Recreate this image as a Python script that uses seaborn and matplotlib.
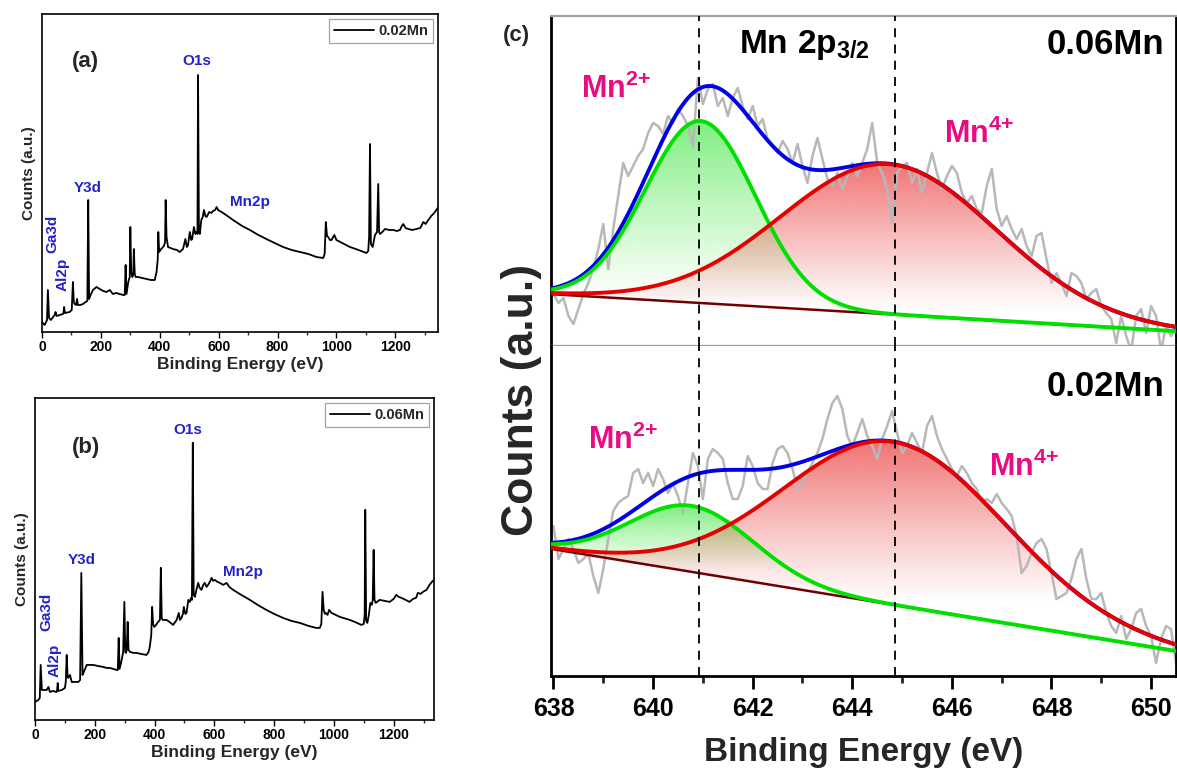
import numpy as np
import pandas as pd
import matplotlib
matplotlib.use("Agg")
import matplotlib.pyplot as plt
import seaborn as sns
from matplotlib.colors import to_rgb
from matplotlib.ticker import MultipleLocator

sns.set_theme(style="ticks")
plt.rcParams['font.family'] = ['Liberation Sans', 'DejaVu Sans']
plt.rcParams['font.weight'] = 'bold'
plt.rcParams['mathtext.fontset'] = 'custom'
plt.rcParams['mathtext.bf'] = 'Liberation Sans:bold'
plt.rcParams['mathtext.rm'] = 'Liberation Sans:bold'
plt.rcParams['mathtext.it'] = 'Liberation Sans:bold'

# ---------------- survey spectra data ----------------
a_ev = [0, 9, 17, 20, 24, 30, 43, 46, 50, 60, 71, 73, 75, 78, 94, 101, 105, 108, 111, 116, 119, 122, 130, 139, 148, 154, 157, 160, 165, 173, 185, 196, 208, 219, 230, 241, 252, 264, 276, 281, 284, 287, 293, 298, 300, 303, 307, 310, 312, 315, 318, 326, 340, 355, 370, 383, 389, 393, 395, 398, 402, 408, 414, 418, 420, 423, 428, 445, 458, 468, 479, 487, 492, 496, 502, 507, 510, 516, 521, 525, 528, 530, 533, 536, 541, 546, 550, 555, 559, 568, 575, 581, 588, 593, 598, 604, 610, 630, 649, 680, 706, 735, 762, 790, 819, 848, 876, 905, 932, 955, 960, 964, 968, 972, 978, 983, 993, 1000, 1020, 1046, 1075, 1102, 1108, 1111, 1114, 1117, 1123, 1131, 1138, 1142, 1145, 1148, 1156, 1165, 1180, 1193, 1205, 1216, 1222, 1227, 1235, 1244, 1258, 1272, 1285, 1295, 1303, 1312, 1322, 1329, 1337, 1344]
a_counts = [10, 7, 12, 42, 14, 12, 17, 20, 16, 17, 18, 19, 25, 19, 20, 22, 50, 30, 28, 27, 33, 27, 27, 28, 30, 31, 132, 33, 37, 42, 45, 43, 41, 40, 42, 38, 39, 38, 37, 37, 67, 38, 50, 55, 105, 60, 55, 58, 83, 58, 55, 55, 54, 53, 52, 52, 60, 72, 100, 80, 82, 84, 86, 90, 132, 95, 85, 83, 82, 80, 83, 93, 85, 87, 100, 92, 93, 105, 98, 100, 98, 257, 100, 98, 112, 115, 122, 116, 115, 120, 119, 121, 122, 125, 122, 121, 120, 116, 112, 106, 102, 97, 93, 89, 85, 82, 80, 78, 75, 74, 78, 110, 96, 95, 92, 92, 97, 92, 89, 85, 82, 79, 81, 95, 188, 88, 85, 97, 100, 148, 100, 98, 100, 103, 102, 102, 101, 102, 106, 108, 104, 103, 102, 103, 104, 110, 108, 112, 116, 118, 121, 124]

b_ev = [0, 11, 16, 19, 23, 26, 39, 45, 50, 60, 72, 74, 76, 78, 90, 100, 103, 106, 109, 111, 117, 123, 135, 145, 151, 155, 159, 162, 173, 185, 195, 210, 228, 240, 251, 262, 273, 277, 280, 283, 290, 295, 299, 302, 304, 307, 310, 313, 318, 330, 340, 355, 373, 380, 384, 389, 392, 395, 399, 405, 412, 418, 421, 424, 427, 440, 450, 462, 474, 481, 485, 490, 495, 498, 503, 507, 513, 518, 522, 525, 528, 531, 535, 540, 546, 551, 557, 563, 568, 574, 579, 585, 591, 596, 602, 610, 618, 630, 641, 650, 663, 690, 719, 745, 774, 800, 830, 858, 886, 915, 941, 953, 958, 962, 966, 970, 973, 979, 984, 992, 1020, 1053, 1070, 1092, 1100, 1103, 1105, 1108, 1112, 1117, 1122, 1127, 1130, 1133, 1136, 1140, 1153, 1170, 1187, 1200, 1209, 1217, 1226, 1240, 1253, 1265, 1275, 1281, 1290, 1298, 1310, 1320, 1328, 1335]
b_counts = [18, 20, 22, 55, 30, 30, 30, 33, 28, 29, 28, 30, 37, 29, 30, 32, 38, 65, 44, 42, 45, 38, 38, 38, 40, 147, 45, 47, 55, 55, 55, 54, 53, 52, 52, 51, 50, 50, 82, 51, 60, 68, 118, 68, 67, 70, 98, 70, 68, 67, 67, 66, 65, 68, 73, 85, 113, 96, 93, 95, 98, 100, 152, 102, 100, 100, 98, 95, 100, 107, 100, 102, 106, 113, 106, 107, 120, 118, 122, 120, 277, 125, 123, 130, 137, 132, 130, 135, 137, 133, 135, 138, 142, 139, 140, 138, 137, 135, 137, 133, 130, 125, 120, 115, 110, 106, 102, 99, 97, 94, 92, 92, 96, 128, 110, 106, 107, 105, 110, 107, 103, 100, 98, 95, 96, 105, 210, 99, 97, 105, 117, 115, 120, 170, 120, 117, 120, 119, 118, 121, 125, 123, 122, 120, 118, 121, 122, 127, 126, 128, 130, 135, 138, 140]

# ---------------- Mn 2p3/2 high resolution data ----------------
hr_ev = [round(638.0 + 0.1 * i, 1) for i in range(126)]
raw_006 = [52, 43, 48, 30, 22, 37, 52, 63, 77, 97, 122, 77, 117, 150, 183, 170, 180, 190, 197, 213,
           223, 220, 212, 230, 223, 237, 230, 220, 200, 268, 242, 257, 262, 240, 248, 230, 248, 258, 240, 227,
           240, 220, 227, 207, 200, 193, 205, 197, 183, 202, 180, 163, 190, 208, 187, 167, 160, 173, 157, 170,
           183, 170, 183, 197, 223, 183, 173, 157, 123, 173, 180, 183, 163, 177, 153, 173, 193, 173, 157, 170,
           180, 173, 153, 143, 150, 137, 133, 160, 177, 137, 120, 130, 117, 107, 117, 100, 90, 110, 113, 87,
           63, 73, 63, 50, 73, 70, 63, 47, 53, 57, 40, 33, 27, 3, 30, 10, -5, 30, 37, 13,
           40, 30, -5, 20, 10, 17]
raw_002 = [150, 117, 127, 137, 127, 113, 117, 122, 100, 83, 107, 137, 165, 173, 177, 180, 203, 207, 193, 203,
           190, 207, 197, 183, 192, 180, 163, 193, 223, 210, 177, 217, 227, 223, 217, 193, 177, 177, 190, 220,
           210, 193, 187, 187, 213, 227, 230, 223, 207, 187, 193, 203, 213, 223, 237, 257, 273, 280, 267, 240,
           230, 243, 257, 240, 230, 217, 237, 250, 265, 243, 223, 230, 243, 233, 223, 250, 260, 240, 227, 217,
           207, 200, 210, 203, 193, 187, 173, 177, 173, 182, 173, 167, 160, 140, 103, 110, 123, 133, 137, 127,
           103, 77, 80, 83, 97, 117, 127, 97, 77, 77, 83, 63, 50, 43, 60, 37, 47, 63, 67, 50,
           40, 13, 37, 50, 47, 13]

# fitted components: [Mn2+, Mn4+] centre (eV), height, FWHM ; linear background ends
fit_006_center = [640.95, 644.72]
fit_006_height = [182, 150]
fit_006_fwhm = [2.6, 5.1]
bg_006 = [51.7, 14.8]
fit_002_center = [640.78, 644.85]
fit_002_height = [66, 163]
fit_002_fwhm = [2.9, 5.23]
bg_002 = [126.7, 25.0]
dash_positions = [640.93, 644.85]

W, H = 1177, 778
fig = plt.figure(figsize=(W / 100, H / 100), dpi=100)


def rect(l, t, r, b):
    return [l / W, 1 - b / H, (r - l) / W, (b - t) / H]


def ftxt(px, py, s, **kw):
    fig.text(px / W, 1 - py / H, s, **kw)


BLUE_LBL = '#2323c8'


def survey(ax, ev, cnt, xmax, ymax, name):
    df = pd.DataFrame({'ev': ev, 'cnt': cnt})
    sns.lineplot(data=df, x='ev', y='cnt', ax=ax, color='black', lw=1.3,
                 sort=False, estimator=None, label=name)
    ax.set_xlim(0, xmax)
    ax.set_ylim(0, ymax)
    ax.set_yticks([])
    ax.xaxis.set_major_locator(MultipleLocator(200))
    ax.xaxis.set_minor_locator(MultipleLocator(100))
    ax.tick_params(axis='x', which='major', direction='out', length=4, width=1,
                   labelsize=10, pad=2, colors='black')
    ax.tick_params(axis='x', which='minor', direction='out', length=2.5, width=1)
    for t in ax.get_xticklabels():
        t.set_fontweight('bold')
    for s in ax.spines.values():
        s.set_linewidth(1.2)
        s.set_color('black')
    ax.set_xlabel('Binding Energy (eV)', fontsize=12.5, fontweight='bold', labelpad=2)
    ax.set_ylabel('Counts (a.u.)', fontsize=11, fontweight='bold', labelpad=4)
    leg = ax.legend(loc='upper right', frameon=True, fancybox=False,
                    handlelength=2.7, borderaxespad=0.35, borderpad=0.35,
                    handletextpad=0.3, prop={'weight': 'bold', 'size': 10.5})
    leg.get_frame().set_edgecolor('#8c8c8c')
    leg.get_frame().set_linewidth(0.9)


axA = fig.add_axes(rect(42, 14, 438, 332))
survey(axA, a_ev, a_counts, 1345, 318, '0.02Mn')
axB = fig.add_axes(rect(35, 398, 434, 720))
survey(axB, b_ev, b_counts, 1335, 321.7, '0.06Mn')

# labels panel (a)
ftxt(85, 62, '(a)', fontsize=16, fontweight='bold', ha='center', va='center')
ftxt(197, 61, 'O1s', fontsize=11, fontweight='bold', color=BLUE_LBL, ha='center', va='center')
ftxt(88, 188, 'Y3d', fontsize=11, fontweight='bold', color=BLUE_LBL, ha='center', va='center')
ftxt(250, 202, 'Mn2p', fontsize=11, fontweight='bold', color=BLUE_LBL, ha='center', va='center')
ftxt(52, 234, 'Ga3d', fontsize=11, fontweight='bold', color=BLUE_LBL, ha='center', va='center', rotation=90)
ftxt(63, 274, 'Al2p', fontsize=11, fontweight='bold', color=BLUE_LBL, ha='center', va='center', rotation=90)
# labels panel (b)
ftxt(86, 448, '(b)', fontsize=16, fontweight='bold', ha='center', va='center')
ftxt(188, 430, 'O1s', fontsize=11, fontweight='bold', color=BLUE_LBL, ha='center', va='center')
ftxt(82, 560, 'Y3d', fontsize=11, fontweight='bold', color=BLUE_LBL, ha='center', va='center')
ftxt(243, 572, 'Mn2p', fontsize=11, fontweight='bold', color=BLUE_LBL, ha='center', va='center')
ftxt(46, 612, 'Ga3d', fontsize=11, fontweight='bold', color=BLUE_LBL, ha='center', va='center', rotation=90)
ftxt(55, 660, 'Al2p', fontsize=11, fontweight='bold', color=BLUE_LBL, ha='center', va='center', rotation=90)

# ---------------- panel (c) ----------------
axT = fig.add_axes(rect(551, 16, 1176, 346))
axL = fig.add_axes(rect(551, 346, 1176, 676))

XMIN, XMAX = 637.95, 650.5
xg = np.linspace(XMIN, XMAX, 600)


def gauss(x, c, h, w):
    return h * np.exp(-4 * np.log(2) * ((x - c) / w) ** 2)


def grad_fill(ax, x, ytop_curve, ybase, color, amax, ylo, yhi):
    poly = ax.fill_between(x, ybase, ytop_curve, facecolor='none', edgecolor='none', zorder=1)
    n = 256
    rgba = np.zeros((n, 1, 4))
    rgba[..., :3] = to_rgb(color)
    rgba[..., 3] = (np.linspace(0, 1, n) ** 1.1 * amax).reshape(n, 1)
    im = ax.imshow(rgba, extent=[x[0], x[-1], ylo, yhi], origin='lower',
                   aspect='auto', zorder=1, interpolation='bilinear')
    im.set_clip_path(poly.get_paths()[0], transform=ax.transData)


def hr_panel(ax, raw, centers, heights, fwhms, bg):
    base = bg[0] + (bg[1] - bg[0]) * (xg - 638.0) / (650.5 - 638.0)
    g2 = gauss(xg, centers[0], heights[0], fwhms[0])
    g4 = gauss(xg, centers[1], heights[1], fwhms[1])
    grad_fill(ax, xg, base + g2, base, '#00dd00', 0.5,
              base[np.argmax(g2)], (base + g2).max())
    grad_fill(ax, xg, base + g4, base, '#e60000', 0.55,
              base[np.argmax(g4)], (base + g4).max())
    df_raw = pd.DataFrame({'ev': hr_ev, 'cnt': raw})
    sns.lineplot(data=df_raw, x='ev', y='cnt', ax=ax, color='#b8b8b8', lw=1.8,
                 sort=False, estimator=None, zorder=2)
    curves = pd.DataFrame({'ev': xg, 'bg': base, 'mn4': base + g4,
                           'mn2': base + g2, 'env': base + g2 + g4})
    sns.lineplot(data=curves, x='ev', y='bg', ax=ax, color='#700000', lw=1.8, zorder=3)
    sns.lineplot(data=curves, x='ev', y='env', ax=ax, color='#0000e6', lw=2.8, zorder=4)
    sns.lineplot(data=curves, x='ev', y='mn2', ax=ax, color='#00e000', lw=2.8, zorder=5)
    sns.lineplot(data=curves, x='ev', y='mn4', ax=ax, color='#e60000', lw=2.8, zorder=6)
    for d in dash_positions:
        ax.axvline(d, color='black', lw=1.3, ls=(0, (5, 4)), zorder=7)
    ax.set_xlim(XMIN, XMAX)
    ax.set_ylim(0, 330)
    ax.set_yticks([])
    ax.set_xlabel('')
    ax.set_ylabel('')
    ax.xaxis.set_major_locator(MultipleLocator(2))
    ax.xaxis.set_minor_locator(MultipleLocator(1))


hr_panel(axT, raw_006, fit_006_center, fit_006_height, fit_006_fwhm, bg_006)
hr_panel(axL, raw_002, fit_002_center, fit_002_height, fit_002_fwhm, bg_002)

# top panel styling
axT.tick_params(axis='x', which='major', direction='out', length=7, width=1.5,
                color='#9a9a9a', labelbottom=False)
axT.tick_params(axis='x', which='minor', direction='out', length=4, width=1.5,
                color='#9a9a9a')
axT.spines['bottom'].set_color('#9a9a9a')
axT.spines['bottom'].set_linewidth(1.6)
axT.spines['top'].set_color('#a0a0a0')
axT.spines['top'].set_linewidth(1.6)
axT.spines['left'].set_color('black')
axT.spines['left'].set_linewidth(2)
axT.spines['right'].set_color('black')
axT.spines['right'].set_linewidth(2)

# bottom panel styling
axL.spines['top'].set_visible(False)
for k in ['left', 'bottom', 'right']:
    axL.spines[k].set_color('black')
    axL.spines[k].set_linewidth(2)
axL.tick_params(axis='x', which='major', direction='out', length=9, width=2,
                labelsize=18, pad=6, colors='black')
axL.tick_params(axis='x', which='minor', direction='out', length=5, width=2)
for t in axL.get_xticklabels():
    t.set_fontweight('bold')

PINK = '#ea0a82'
MN2 = r'$\mathbf{Mn^{2{+}}}$'
MN4 = r'$\mathbf{Mn^{4{+}}}$'
axT.text(638.55, 248, MN2, fontsize=22, color=PINK, ha='left', va='baseline', zorder=8)
axT.text(645.85, 203, MN4, fontsize=22, color=PINK, ha='left', va='baseline', zorder=8)
axL.text(638.7, 227, MN2, fontsize=22, color=PINK, ha='left', va='baseline', zorder=8)
axL.text(646.75, 200, MN4, fontsize=22, color=PINK, ha='left', va='baseline', zorder=8)
axT.text(641.72, 293, r'$\mathbf{Mn\ 2p_{3/2}}$', fontsize=24, color='black', ha='left', va='baseline', zorder=8)
axT.text(650.26, 302, '0.06Mn', fontsize=25, fontweight='bold', color='black', ha='right', va='center', zorder=8)
axL.text(650.26, 290, '0.02Mn', fontsize=25, fontweight='bold', color='black', ha='right', va='center', zorder=8)

ftxt(516, 35, '(c)', fontsize=16, fontweight='bold', ha='center', va='center')
ftxt(521, 400, 'Counts (a.u.)', fontsize=32, fontweight='bold', ha='center', va='center', rotation=90)
ftxt(864, 752, 'Binding Energy (eV)', fontsize=24, fontweight='bold', ha='center', va='center')

fig.savefig('out.png', dpi=100)
